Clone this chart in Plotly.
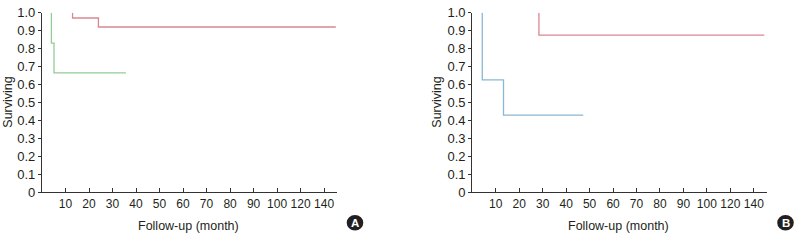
import plotly.graph_objects as go

# ---- data (months, survival) ----
a_red_t = [13, 13, 24, 150]
a_red_s = [1.0, 0.97, 0.92, 0.92]
a_green_t = [4, 4, 5.1, 35.7]
a_green_s = [1.0, 0.83, 0.665, 0.665]
b_blue_t = [4.25, 4.25, 13.3, 47.3]
b_blue_s = [1.0, 0.626, 0.43, 0.43]
b_red_t = [28.4, 28.4, 149]
b_red_s = [1.0, 0.875, 0.875]

x_ticks = [10, 20, 30, 40, 50, 60, 70, 80, 90, 100, 120, 140]
y_ticks = [0, 0.1, 0.2, 0.3, 0.4, 0.5, 0.6, 0.7, 0.8, 0.9, 1.0]
y_tick_text = ["0", "0.1", "0.2", "0.3", "0.4", "0.5", "0.6", "0.7", "0.8", "0.9", "1.0"]


def pos(t):
    # broken time scale: linear to 100, then half-scale beyond
    return t if t <= 100 else 100 + (t - 100) / 2


RED = "#da8791"
GREEN = "#93cc95"
BLUE = "#88b8d3"
AX = "#333333"
TXT = "#231f20"
FONT = "Liberation Sans, Arial, sans-serif"

fig = go.Figure()


def add(t, s, color, xa, ya):
    fig.add_trace(go.Scatter(x=[pos(v) for v in t], y=s, mode="lines",
                             line=dict(color=color, width=1.3, shape="hv"),
                             xaxis=xa, yaxis=ya, showlegend=False,
                             hoverinfo="skip", cliponaxis=False))


add(a_red_t, a_red_s, RED, "x", "y")
add(a_green_t, a_green_s, GREEN, "x", "y")
add(b_blue_t, b_blue_s, BLUE, "x2", "y2")
add(b_red_t, b_red_s, RED, "x2", "y2")

W, H = 797, 242
ytop, ybot = 6, 197.7
YMAX = 1.0
ydom = [1 - ybot / H, 1 - ytop / H]
xdomA = [42 / W, 337 / W]
xdomB = [472.3 / W, 766.7 / W]

xcommon = dict(range=[0, 125.5], tickmode="array",
               tickvals=[pos(v) for v in x_ticks],
               ticktext=[str(v) for v in x_ticks],
               tickangle=0,
               ticks="inside", ticklen=4, tickwidth=1, tickcolor=AX,
               showline=True, linecolor=AX, linewidth=1.2,
               showgrid=False, zeroline=False,
               tickfont=dict(family=FONT, size=12, color=TXT),
               fixedrange=True)
ycommon = dict(range=[0, YMAX], tickmode="array", tickvals=y_ticks,
               ticktext=y_tick_text, ticklabeloverflow="allow",
               ticks="outside", ticklen=3, tickwidth=1, tickcolor=AX,
               showline=True, linecolor=AX, linewidth=1.2,
               showgrid=False, zeroline=False,
               tickfont=dict(family=FONT, size=13, color=TXT),
               fixedrange=True)

fig.update_layout(
    width=W, height=H, margin=dict(l=0, r=0, t=0, b=0),
    paper_bgcolor="white", plot_bgcolor="white",
    xaxis=dict(domain=xdomA, anchor="y", **xcommon),
    yaxis=dict(domain=ydom, anchor="x", **ycommon),
    xaxis2=dict(domain=xdomB, anchor="y2", **xcommon),
    yaxis2=dict(domain=ydom, anchor="x2", **ycommon),
)

ann = []
for xc in [188, 618.5]:
    ann.append(dict(x=xc / W, y=1 - 233 / H, xref="paper", yref="paper",
                    text="Follow-up (month)", showarrow=False,
                    font=dict(family=FONT, size=12.5, color=TXT),
                    xanchor="center", yanchor="middle"))
for xc in [8, 437]:
    ann.append(dict(x=xc / W, y=1 - 102 / H, xref="paper", yref="paper",
                    text="Surviving", showarrow=False, textangle=-90,
                    font=dict(family=FONT, size=12.5, color=TXT),
                    xanchor="center", yanchor="middle"))

shapes = []
for letter, cx, cy in [("A", 355, 230), ("B", 785.5, 230)]:
    r = 8.3
    shapes.append(dict(type="circle", xref="paper", yref="paper",
                       x0=(cx - r) / W, x1=(cx + r) / W,
                       y0=1 - (cy + r) / H, y1=1 - (cy - r) / H,
                       fillcolor="#231f20", line=dict(width=0)))
    ann.append(dict(x=cx / W, y=1 - cy / H, xref="paper", yref="paper",
                    text="<b>%s</b>" % letter, showarrow=False,
                    font=dict(family=FONT, size=11.5, color="white"),
                    xanchor="center", yanchor="middle", borderpad=0))

fig.update_layout(annotations=ann, shapes=shapes)
fig.write_html("out.html",
               config={"displayModeBar": False},
               post_script="document.body.style.margin='0';"
                           "document.body.style.overflow='hidden';")
